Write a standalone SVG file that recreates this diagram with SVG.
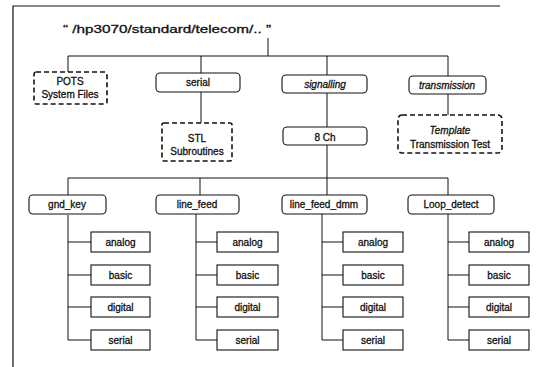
<svg xmlns="http://www.w3.org/2000/svg" width="539" height="367" viewBox="0 0 539 367">
  <style>
    text { font-family: "Liberation Sans", Arial, sans-serif; font-size: 10px; fill: #111; stroke: #111; stroke-width: 0.3; text-anchor: middle; }
    .it { font-style: italic; }
    .title { font-size: 11px; text-anchor: start; }
    .rbox { fill: #fff; stroke: #111; stroke-width: 1.1; }
    .dbox { fill: #fff; stroke: #111; stroke-width: 1.6; stroke-dasharray: 5 3; }
    .leaf { fill: #fff; stroke: #111; stroke-width: 1.1; }
    .wire { fill: none; stroke: #111; stroke-width: 1; }
    .frame { fill: none; stroke: #111; stroke-width: 1.2; }
  </style>
  <rect width="539" height="367" fill="#fff"/>

  <!-- page frame -->
  <path class="frame" d="M13,367 V6 H500"/>

  <!-- root path -->
  <g id="root">
    <text class="title" x="63" y="33" textLength="208" lengthAdjust="spacingAndGlyphs">“ /hp3070/standard/telecom/.. ”</text>
  </g>

  <!-- connectors -->
  <g id="connectors">
    <path class="wire" d="M268,38 V56 M68,72 V56 H448 V76 M201,56 V73 M327,56 V75"/>
    <path class="wire" d="M201,92 V123"/>
    <path class="wire" d="M327,93 V127"/>
    <path class="wire" d="M448,94 V115"/>
    <path class="wire" d="M327,145 V178 M68,195 V178 H448 V195 M200,178 V195 M327,178 V195"/>
    <!-- leaf ties -->
    <path class="wire" d="M68,215 V340 M68,242 H91 M68,275 H91 M68,307 H91 M68,340 H91"/>
    <path class="wire" d="M196,214 V340 M196,242 H217 M196,275 H217 M196,307 H217 M196,340 H217"/>
    <path class="wire" d="M322,214 V340 M322,242 H343 M322,275 H343 M322,307 H343 M322,340 H343"/>
    <path class="wire" d="M448,214 V340 M448,242 H469 M448,275 H469 M448,307 H469 M448,340 H469"/>
  </g>

  <!-- first level -->
  <g id="pots">
    <rect class="dbox" x="34" y="72" width="73" height="32" rx="2"/>
    <text x="70" y="85">POTS</text>
    <text x="70" y="98">System Files</text>
  </g>
  <g id="serial">
    <rect class="rbox" x="156" y="73" width="84" height="19" rx="4"/>
    <text x="198" y="86">serial</text>
  </g>
  <g id="signalling">
    <rect class="rbox" x="282" y="75" width="85" height="18" rx="4"/>
    <text class="it" x="325" y="88">signalling</text>
  </g>
  <g id="transmission">
    <rect class="rbox" x="409" y="76" width="77" height="18" rx="4"/>
    <text class="it" x="447" y="89">transmission</text>
  </g>

  <!-- second level -->
  <g id="stl">
    <rect class="dbox" x="162" y="123" width="70" height="38" rx="2"/>
    <text x="197" y="142">STL</text>
    <text x="197" y="155">Subroutines</text>
  </g>
  <g id="ch8">
    <rect class="rbox" x="283" y="127" width="84" height="18" rx="4"/>
    <text x="325" y="141">8 Ch</text>
  </g>
  <g id="template">
    <rect class="dbox" x="398" y="115" width="104" height="38" rx="4"/>
    <text class="it" x="450" y="134">Template</text>
    <text x="450" y="148">Transmission Test</text>
  </g>

  <!-- channel groups -->
  <g id="gnd_key">
    <rect class="rbox" x="29" y="195" width="77" height="19" rx="4"/>
    <text x="67" y="208">gnd_key</text>
  </g>
  <g id="line_feed">
    <rect class="rbox" x="156" y="195" width="83" height="19" rx="4"/>
    <text x="197" y="208">line_feed</text>
  </g>
  <g id="line_feed_dmm">
    <rect class="rbox" x="282" y="195" width="85" height="19" rx="4"/>
    <text x="324" y="208">line_feed_dmm</text>
  </g>
  <g id="loop_detect">
    <rect class="rbox" x="408" y="195" width="86" height="19" rx="4"/>
    <text x="451" y="208">Loop_detect</text>
  </g>

  <!-- leaves: gnd_key -->
  <g id="gk_analog"><rect class="leaf" x="91" y="232" width="59" height="20"/><text x="120.5" y="246">analog</text></g>
  <g id="gk_basic"><rect class="leaf" x="91" y="265" width="59" height="20"/><text x="120.5" y="279">basic</text></g>
  <g id="gk_digital"><rect class="leaf" x="91" y="297" width="59" height="20"/><text x="120.5" y="311">digital</text></g>
  <g id="gk_serial"><rect class="leaf" x="91" y="330" width="59" height="20"/><text x="120.5" y="344">serial</text></g>

  <!-- leaves: line_feed -->
  <g id="lf_analog"><rect class="leaf" x="217" y="232" width="61" height="20"/><text x="247.5" y="246">analog</text></g>
  <g id="lf_basic"><rect class="leaf" x="217" y="265" width="61" height="20"/><text x="247.5" y="279">basic</text></g>
  <g id="lf_digital"><rect class="leaf" x="217" y="297" width="61" height="20"/><text x="247.5" y="311">digital</text></g>
  <g id="lf_serial"><rect class="leaf" x="217" y="330" width="61" height="20"/><text x="247.5" y="344">serial</text></g>

  <!-- leaves: line_feed_dmm -->
  <g id="dmm_analog"><rect class="leaf" x="343" y="232" width="60" height="20"/><text x="373" y="246">analog</text></g>
  <g id="dmm_basic"><rect class="leaf" x="343" y="265" width="60" height="20"/><text x="373" y="279">basic</text></g>
  <g id="dmm_digital"><rect class="leaf" x="343" y="297" width="60" height="20"/><text x="373" y="311">digital</text></g>
  <g id="dmm_serial"><rect class="leaf" x="343" y="330" width="60" height="20"/><text x="373" y="344">serial</text></g>

  <!-- leaves: Loop_detect -->
  <g id="ld_analog"><rect class="leaf" x="469" y="232" width="60" height="20"/><text x="499" y="246">analog</text></g>
  <g id="ld_basic"><rect class="leaf" x="469" y="265" width="60" height="20"/><text x="499" y="279">basic</text></g>
  <g id="ld_digital"><rect class="leaf" x="469" y="297" width="60" height="20"/><text x="499" y="311">digital</text></g>
  <g id="ld_serial"><rect class="leaf" x="469" y="330" width="60" height="20"/><text x="499" y="344">serial</text></g>
</svg>
